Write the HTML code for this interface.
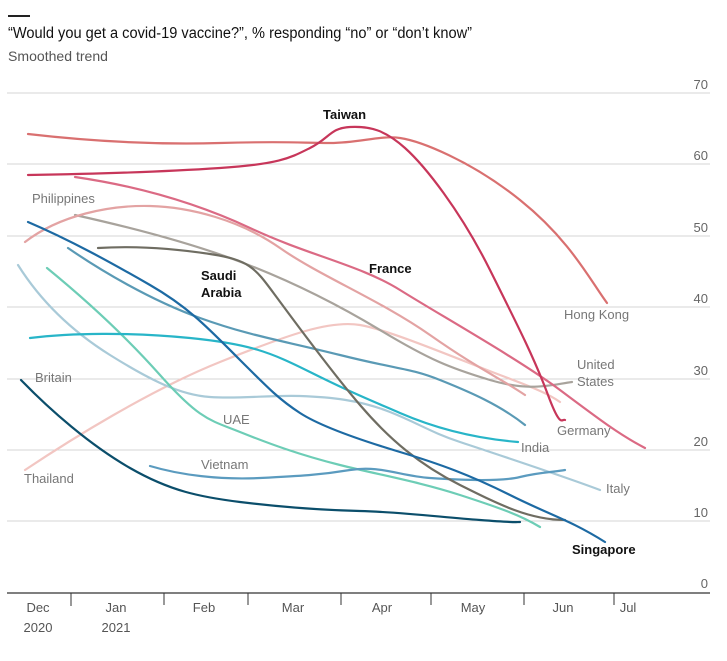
<!DOCTYPE html>
<html><head><meta charset="utf-8"><style>
body{margin:0;background:#fff;width:727px;height:656px;overflow:hidden;font-family:"Liberation Sans Narrow","Liberation Sans",sans-serif}
svg text{font-family:"Liberation Sans Narrow","Liberation Sans",sans-serif}
</style></head><body>
<svg width="727" height="656" viewBox="0 0 727 656" xmlns="http://www.w3.org/2000/svg">
<rect x="8" y="15" width="22" height="2" fill="#222"/>
<text x="8" y="38" font-size="15.5" fill="#111" textLength="464" lengthAdjust="spacingAndGlyphs">“Would you get a covid-19 vaccine?”, % responding “no” or “don’t know”</text>
<text x="8" y="61" font-size="14" fill="#555" textLength="100" lengthAdjust="spacingAndGlyphs">Smoothed trend</text>
<g stroke="#d6d6d6" stroke-width="1">
<line x1="7" x2="710" y1="93" y2="93"/><line x1="7" x2="710" y1="164" y2="164"/><line x1="7" x2="710" y1="236" y2="236"/><line x1="7" x2="710" y1="307" y2="307"/><line x1="7" x2="710" y1="379" y2="379"/><line x1="7" x2="710" y1="450" y2="450"/><line x1="7" x2="710" y1="521" y2="521"/>
</g>
<g font-size="13" fill="#666" text-anchor="end">
<text x="708" y="89">70</text><text x="708" y="160">60</text><text x="708" y="232">50</text><text x="708" y="303">40</text><text x="708" y="375">30</text><text x="708" y="446">20</text><text x="708" y="517">10</text><text x="708" y="588">0</text>
</g>
<line x1="7" x2="710" y1="593" y2="593" stroke="#333" stroke-width="1.2"/>
<g stroke="#333" stroke-width="1"><line x1="71" x2="71" y1="593" y2="606"/><line x1="164" x2="164" y1="593" y2="605"/><line x1="248" x2="248" y1="593" y2="605"/><line x1="341" x2="341" y1="593" y2="605"/><line x1="431" x2="431" y1="593" y2="605"/><line x1="524" x2="524" y1="593" y2="605"/><line x1="614" x2="614" y1="593" y2="605"/></g>
<g font-size="13" fill="#555" text-anchor="middle">
<text x="38" y="612">Dec</text><text x="38" y="632">2020</text><text x="116" y="612">Jan</text><text x="116" y="632">2021</text><text x="204" y="612">Feb</text><text x="293" y="612">Mar</text><text x="382" y="612">Apr</text><text x="473" y="612">May</text><text x="563" y="612">Jun</text><text x="628" y="612">Jul</text>
</g>
<g fill="none" stroke-width="2.2" stroke-linecap="round" stroke-linejoin="round">
<path stroke="#f2c6c2" d="M25,470 C70,440 150,390 220,362 S330,320 360,325 S460,360 500,375 S550,395 560,402"/>
<path stroke="#a8a39c" d="M75,215 C120,225 180,240 230,258 S330,300 380,330 S450,368 490,380 S550,385 572,382"/>
<path stroke="#e3a3a3" d="M25,242 C60,215 110,205 150,206 S240,220 280,248 S380,300 430,335 S500,378 525,395"/>
<path stroke="#d97070" d="M28,134 C80,140 150,145 220,143 S300,143 330,143 S380,135 400,138 S470,160 520,200 S590,280 607,303"/>
<path stroke="#db6a84" d="M75,177 C130,185 190,200 250,228 S360,265 400,290 S520,360 560,390 S620,435 645,448"/>
<path stroke="#c7365a" d="M28,175 C90,174 160,172 220,168 S290,158 310,148 S330,128 350,127 S385,130 405,148 S460,210 490,270 S535,360 548,395 S562,418 565,420"/>
<path stroke="#a9cad8" d="M18,265 C40,300 70,330 110,355 S180,395 210,397 S270,395 300,396 S360,400 390,412 S430,432 460,442 S560,475 600,490"/>
<path stroke="#5a9ab5" d="M68,248 C100,270 150,300 200,318 S280,340 340,355 S410,368 440,380 S500,405 525,425"/>
<path stroke="#6dcdb6" d="M47,268 C80,295 120,330 160,375 S210,420 240,432 S300,455 340,465 S420,482 460,495 S520,515 540,527"/>
<path stroke="#28b5c8" d="M30,338 C70,333 130,332 190,338 S270,352 310,372 S370,400 400,413 S470,438 518,442"/>
<path stroke="#5b9bbf" d="M150,466 C180,475 220,480 260,478 S320,475 350,470 S400,476 430,478 S500,482 520,477 S555,472 565,470"/>
<path stroke="#6f6d62" d="M98,248 C130,246 170,248 210,254 S255,268 275,295 S330,370 360,405 S420,465 460,485 S530,520 565,520"/>
<path stroke="#1d6aa3" d="M28,222 C70,240 110,262 150,285 S210,330 240,360 S280,400 300,413 S360,440 400,452 S470,475 510,495 S570,520 605,542"/>
<path stroke="#0b4e6b" d="M21,380 C50,410 90,445 130,468 S200,497 240,502 S320,510 360,511 S440,517 480,520 S515,522 520,522"/>
</g>
<g font-size="13">
<text x="323" y="119" fill="#111" font-weight="bold">Taiwan</text>
<text x="369" y="273" fill="#111" font-weight="bold">France</text>
<text x="201" y="280" fill="#111" font-weight="bold">Saudi</text>
<text x="201" y="297" fill="#111" font-weight="bold">Arabia</text>
<text x="572" y="554" fill="#111" font-weight="bold">Singapore</text>
<text x="32" y="203" fill="#777">Philippines</text>
<text x="35" y="382" fill="#777">Britain</text>
<text x="24" y="483" fill="#777">Thailand</text>
<text x="223" y="424" fill="#777">UAE</text>
<text x="201" y="469" fill="#777">Vietnam</text>
<text x="564" y="319" fill="#777">Hong Kong</text>
<text x="577" y="369" fill="#777">United</text>
<text x="577" y="386" fill="#777">States</text>
<text x="557" y="435" fill="#777">Germany</text>
<text x="521" y="452" fill="#777">India</text>
<text x="606" y="493" fill="#777">Italy</text>
</g>
</svg>
</body></html>
